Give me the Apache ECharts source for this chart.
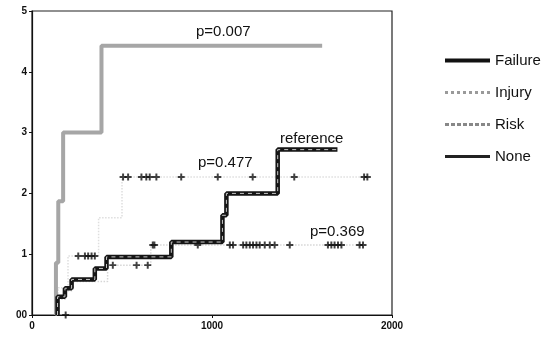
<!DOCTYPE html>
<html>
<head>
<meta charset="utf-8">
<script src="https://cdn.jsdelivr.net/npm/echarts@6/dist/echarts.min.js"></script>
<style>
  html, body { margin: 0; padding: 0; background: #fff; }
  #main { width: 549px; height: 338px; }
</style>
</head>
<body>
<div id="main"></div>
<script>
// step curves: time at which the value changes, value after the change
const failureT = [142, 142, 183, 220, 349, 414, 774, 1058, 1080, 1365, 1697];
const failureV = [0, 0.30, 0.44, 0.585, 0.766, 0.956, 1.20, 1.64, 2.0, 2.72, 2.72];
const injuryT = [133, 133, 146, 173, 386, 1612];
const injuryV = [0, 0.86, 1.87, 3.0, 4.43, 4.43];
const riskT = [130, 145, 200, 370, 500, 1870];
const riskV = [0, 0.45, 0.97, 1.6, 2.27, 2.27];
const noneT = [150, 150, 190, 228, 420, 660, 1850];
const noneV = [0, 0.26, 0.40, 0.55, 0.82, 1.15, 1.15];

// censored observations (+)
const riskCensT = [257, 294, 312, 331, 349, 506, 534, 608, 635, 654, 691, 829, 1032, 1226, 1457, 1845, 1863];
const riskCensV = [0.97, 0.97, 0.97, 0.97, 0.97, 2.27, 2.27, 2.27, 2.27, 2.27, 2.27, 2.27, 2.27, 2.27, 2.27, 2.27, 2.27];
const noneCensT = [187, 449, 581, 643, 671, 680, 921, 1099, 1117, 1173, 1191, 1210, 1228, 1247, 1265, 1293, 1321, 1348, 1432, 1644, 1663, 1681, 1700, 1719, 1820, 1839];
const noneCensV = [0, 0.82, 0.82, 0.82, 1.15, 1.15, 1.15, 1.15, 1.15, 1.15, 1.15, 1.15, 1.15, 1.15, 1.15, 1.15, 1.15, 1.15, 1.15, 1.15, 1.15, 1.15, 1.15, 1.15, 1.15, 1.15];

const pLabels = ['p=0.007', 'reference', 'p=0.477', 'p=0.369'];
const xTicks = [0, 1000, 2000];

const pair = (t, v) => t.map((x, i) => [x, v[i]]);
const plus = 'path://M3.6,0H6.4V3.6H10V6.4H6.4V10H3.6V6.4H0V3.6H3.6Z';
const font = '"Liberation Sans", Arial, sans-serif';

let chartDom = document.getElementById('main');
let myChart = echarts.init(chartDom);

let option = {
  animation: false,
  backgroundColor: '#fff',
  grid: {
    left: 32, right: 157, top: 11, bottom: 23,
    show: true, borderColor: '#222', borderWidth: 1.2
  },
  legend: {
    orient: 'vertical',
    left: 438, top: 48,
    itemWidth: 45, itemHeight: 10, itemGap: 17,
    itemStyle: { opacity: 0 },
    textStyle: { fontFamily: font, fontSize: 15, color: '#111' },
    data: [
      { name: 'Failure', lineStyle: { color: '#111', width: 4, type: 'solid' } },
      { name: 'Injury', lineStyle: { color: '#9a9a9a', width: 3, type: 'dotted' } },
      { name: 'Risk', lineStyle: { color: '#888', width: 3, type: [4, 2] } },
      { name: 'None', lineStyle: { color: '#222', width: 3, type: 'solid' } }
    ]
  },
  xAxis: {
    type: 'value', min: 0, max: 2000, interval: 1000,
    axisLine: { lineStyle: { color: '#111', width: 1.2 } },
    axisTick: { show: true, length: 3, lineStyle: { color: '#111' } },
    splitLine: { show: false },
    axisLabel: {
      margin: 6, color: '#111', fontFamily: font, fontSize: 10, fontWeight: 'bold',
      formatter: v => xTicks.includes(v) ? String(v) : ''
    }
  },
  yAxis: {
    type: 'value', min: 0, max: 5, interval: 1,
    axisLine: { show: true, lineStyle: { color: '#111', width: 1.2 } },
    axisTick: { show: true, length: 3, lineStyle: { color: '#111' } },
    splitLine: { show: false },
    axisLabel: {
      margin: 5, color: '#111', fontFamily: font, fontSize: 10, fontWeight: 'bold',
      formatter: v => v === 0 ? '00' : String(v)
    }
  },
  graphic: [
    { type: 'text', left: 196, top: 24, style: { text: pLabels[0], font: '15px ' + font, fill: '#111' } },
    { type: 'text', left: 280, top: 131, style: { text: pLabels[1], font: '15px ' + font, fill: '#111' } },
    { type: 'text', left: 198, top: 155, style: { text: pLabels[2], font: '15px ' + font, fill: '#111' } },
    { type: 'text', left: 310, top: 224, style: { text: pLabels[3], font: '15px ' + font, fill: '#111' } }
  ],
  series: [
    {
      name: 'Risk', type: 'line', step: 'end', symbol: 'none', z: 2,
      data: pair(riskT, riskV),
      lineStyle: { color: '#dedede', width: 1.5, type: 'dotted' }
    },
    {
      name: 'None', type: 'line', step: 'end', symbol: 'none', z: 2,
      data: pair(noneT, noneV),
      lineStyle: { color: '#d6d6d6', width: 1.5, type: 'dotted' }
    },
    {
      name: 'Injury', type: 'line', step: 'end', symbol: 'none', z: 3,
      data: pair(injuryT, injuryV),
      lineStyle: { color: '#a6a6a6', width: 4 }
    },
    {
      name: 'Failure', type: 'line', step: 'end', symbol: 'none', z: 4,
      data: pair(failureT, failureV),
      lineStyle: { color: '#151515', width: 4.5 }
    },
    {
      name: 'Failure', type: 'line', step: 'end', symbol: 'none', z: 5,
      data: pair(failureT, failureV),
      lineStyle: { color: '#c8c8c8', width: 1, type: [4, 4] }
    },
    {
      name: 'Risk censored', type: 'scatter', symbol: plus, symbolSize: 7, z: 6,
      data: pair(riskCensT, riskCensV),
      itemStyle: { color: '#111' }
    },
    {
      name: 'None censored', type: 'scatter', symbol: plus, symbolSize: 7, z: 6,
      data: pair(noneCensT, noneCensV),
      itemStyle: { color: '#111' }
    }
  ]
};

option && myChart.setOption(option);
</script>
</body>
</html>
